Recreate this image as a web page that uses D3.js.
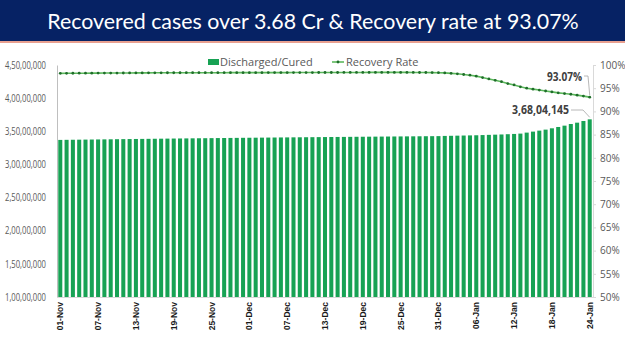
<!DOCTYPE html>
<html><head><meta charset="utf-8">
<script src="https://cdn.jsdelivr.net/npm/d3@7"></script>
<style>body{margin:0;background:#fff}svg{display:block}</style>
</head><body><svg id="c" width="625" height="351"></svg>
<script>
const titleText = "Recovered cases over 3.68 Cr & Recovery rate at 93.07%";
const startDate = new Date(2021, 10, 1), endDate = new Date(2022, 0, 24);
const tickLabels = ["01-Nov","07-Nov","13-Nov","19-Nov","25-Nov","01-Dec","07-Dec","13-Dec","19-Dec","25-Dec","31-Dec","06-Jan","12-Jan","18-Jan","24-Jan"];
const leftTicks = [10000000,15000000,20000000,25000000,30000000,35000000,40000000,45000000];
const rightTicks = [50,55,60,65,70,75,80,85,90,95,100];
const discharged = [
 33697740,33710100,33722300,33734900,33746500,33758500,33770300,33781600,33793000,33805600,
 33817600,33829000,33840600,33851700,33861756,33873000,33884000,33895000,33906000,33917000,
 33927800,33937900,33947300,33957600,33967200,33977100,33986700,33996400,34005900,34016000,
 34025000,34034500,34043400,34052300,34061200,34069900,34078700,34086800,34095500,34103900,
 34112200,34120500,34128700,34136900,34145000,34153100,34161300,34169500,34177600,34185600,
 34193500,34201300,34209000,34216900,34224600,34232200,34240000,34247600,34255100,34262800,
 34270600,
 34300000,34320000,34340000,34360000,34380000,34400000,34430000,34460000,34490000,34520000,
 34560000,34600000,34650000,34800000,34950000,35100000,35250000,35450000,35650000,35850000,
 36100000,36300000,36550000,36804145];
const recoveryRate = [
 98.20,98.21,98.22,98.23,98.23,98.24,98.25,98.26,98.27,98.27,
 98.28,98.29,98.30,98.30,98.31,98.32,98.32,98.33,98.33,98.33,
 98.34,98.34,98.34,98.34,98.34,98.34,98.34,98.35,98.35,98.35,
 98.35,98.35,98.35,98.36,98.36,98.36,98.36,98.37,98.37,98.37,
 98.37,98.38,98.38,98.38,98.38,98.39,98.39,98.39,98.39,98.40,
 98.40,98.40,98.40,98.40,98.40,98.40,98.39,98.38,98.38,98.36,
 98.34,
 98.30,98.20,98.10,97.95,97.80,97.60,97.30,97.00,96.70,96.40,
 96.00,95.70,95.30,95.00,94.80,94.60,94.40,94.20,94.00,93.85,
 93.70,93.50,93.30,93.07];

const dates = d3.timeDay.range(startDate, d3.timeDay.offset(endDate,1));
const fmtDate = d3.timeFormat("%d-%b");
const cats = dates.map(fmtDate);

function fmtIN(n){
  const s = String(Math.round(n));
  if (s.length <= 3) return s;
  const last3 = s.slice(-3), rest = s.slice(0,-3);
  return rest.replace(/\B(?=(\d{2})+(?!\d))/g, ",") + "," + last3;
}

const svg = d3.select("#c");
// banner
svg.append("rect").attr("x",0).attr("y",0).attr("width",625).attr("height",41).attr("fill","#062264");
svg.append("rect").attr("x",0).attr("y",41).attr("width",625).attr("height",2).attr("fill","#e8a090");
const title = svg.append("text").attr("x",313).attr("y",29).attr("text-anchor","middle")
  .attr("fill","#fff").attr("font-family","Lato, 'Open Sans', sans-serif").attr("font-size",24)
  .text(titleText);
const natural = title.node().getComputedTextLength();
title.attr("font-size", Math.min(24, 24*532/natural));

const L = 57, R = 593, T = 65, B = 297;
const x = d3.scaleBand().domain(cats).range([L, R]).paddingInner(0.36).paddingOuter(0.2);
const yL = d3.scaleLinear().domain([10000000,45000000]).range([B,T]);
const yR = d3.scaleLinear().domain([50,100]).range([B,T]);

const barColor = "#17a254";
svg.append("g").selectAll("rect").data(discharged).join("rect")
  .attr("x",(d,i)=>x(cats[i])).attr("width",x.bandwidth())
  .attr("y",d=>yL(d)).attr("height",d=>B-yL(d)).attr("fill",barColor);

// axes
const axL = svg.append("g").attr("transform",`translate(${L},0)`)
  .call(d3.axisLeft(yL).tickValues(leftTicks).tickFormat(fmtIN).tickSize(0).tickPadding(11));
axL.select(".domain").attr("stroke","#bfbfbf");
axL.selectAll("text").attr("font-family","'Open Sans', sans-serif").attr("font-size",10).attr("fill","#595959")
  .attr("textLength",41).attr("lengthAdjust","spacingAndGlyphs");

const axR = svg.append("g").attr("transform",`translate(${R},0)`)
  .call(d3.axisRight(yR).tickValues(rightTicks).tickFormat(d=>d+"%").tickSize(3).tickPadding(4));
axR.select(".domain").attr("stroke","#d9d9d9");
axR.selectAll("line").attr("stroke","#d9d9d9");
axR.selectAll("text").attr("font-family","'Open Sans', sans-serif").attr("font-size",10).attr("fill","#595959");

svg.append("line").attr("x1",L).attr("x2",R).attr("y1",B+0.5).attr("y2",B+0.5).attr("stroke","#d9d9d9");

const axB = svg.append("g").attr("transform",`translate(0,${B})`)
  .call(d3.axisBottom(x).tickValues(tickLabels).tickSize(0).tickPadding(0));
axB.select(".domain").remove();
axB.selectAll("text").attr("font-family","'Liberation Sans', Arial, sans-serif").attr("font-size",8.5)
  .attr("font-weight","bold").attr("fill","#1a1a1a")
  .attr("transform","rotate(-90)").attr("text-anchor","end").attr("dx","-5").attr("dy","0.35em").attr("y",0).attr("x",0);

// recovery line
const line = d3.line().x((d,i)=>x(cats[i])+x.bandwidth()/2).y(d=>yR(d));
svg.append("path").datum(recoveryRate).attr("d",line).attr("fill","none").attr("stroke","#5cb85c").attr("stroke-width",1.6);
svg.append("g").selectAll("circle").data(recoveryRate).join("circle")
  .attr("cx",(d,i)=>x(cats[i])+x.bandwidth()/2).attr("cy",d=>yR(d)).attr("r",1.4).attr("fill","#1f6e2a");

// annotations
const lastI = cats.length-1;
const lx = x(cats[lastI])+x.bandwidth()/2;
svg.append("path").attr("d",`M584,76 L588,76 L${lx},${yR(recoveryRate[lastI])-2}`).attr("fill","none").attr("stroke","#a6a6a6").attr("stroke-width",0.8);
svg.append("text").attr("x",582).attr("y",81).attr("text-anchor","end")
  .attr("font-family","'Open Sans', sans-serif").attr("font-size",12).attr("font-weight","bold").attr("fill","#404040")
  .attr("textLength",35).attr("lengthAdjust","spacingAndGlyphs")
  .text(recoveryRate[lastI].toFixed(2)+"%");
svg.append("path").attr("d",`M571,110 L583,110 L${lx},${yL(discharged[lastI])-2}`).attr("fill","none").attr("stroke","#a6a6a6").attr("stroke-width",0.8);
svg.append("text").attr("x",569).attr("y",114).attr("text-anchor","end")
  .attr("font-family","'Open Sans', sans-serif").attr("font-size",12).attr("font-weight","bold").attr("fill","#404040")
  .attr("textLength",57).attr("lengthAdjust","spacingAndGlyphs")
  .text(fmtIN(discharged[lastI]));

// legend
const lg = svg.append("g").attr("font-family","'Open Sans', sans-serif").attr("font-size",11).attr("fill","#595959");
lg.append("rect").attr("x",208).attr("y",59).attr("width",11).attr("height",6).attr("fill",barColor);
lg.append("text").attr("x",220).attr("y",66).text("Discharged/Cured");
lg.append("line").attr("x1",332).attr("x2",344).attr("y1",62).attr("y2",62).attr("stroke","#5cb85c").attr("stroke-width",1.6);
lg.append("circle").attr("cx",338).attr("cy",62).attr("r",1.4).attr("fill","#1f6e2a");
lg.append("text").attr("x",346).attr("y",66).text("Recovery Rate");
</script></body></html>
